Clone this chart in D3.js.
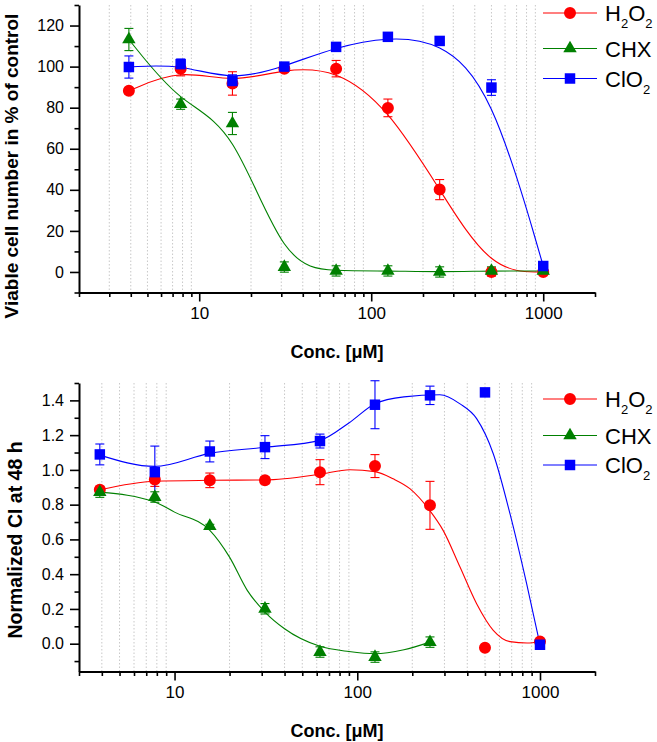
<!DOCTYPE html>
<html><head><meta charset="utf-8">
<script src="https://cdn.jsdelivr.net/npm/d3@7"></script>
<style>
html,body{margin:0;padding:0;background:#fff;}
svg{display:block;font-family:"Liberation Sans",Arial,sans-serif;}
</style></head>
<body>
<svg id="chart" width="657" height="742"></svg>
<script>
// ---------- data ----------
const concs = [3.9, 7.8, 15.6, 31.25, 62.5, 125, 250, 500, 1000];
const seriesNames = ["H2O2", "CHX", "ClO2"];
const seriesColors = ["#ff0000", "#008000", "#0000ff"];

// top panel: viable cell number (% of control)
const topH2O2 = [88.2, 99, 91.8, 99, 99, 79.9, 40.1, 0, 0];
const topH2O2Err = [1.5, 3.5, 5.7, 1.5, 4, 4.3, 4.9, 2, 0.5];
const topCHX = [113.2, 81.7, 72.3, 2.4, 0.5, 0.5, 0, 0.5, 0.5];
const topCHXErr = [5.4, 2.5, 5.4, 2.5, 2.5, 2.5, 2.5, 2, 1];
const topClO2 = [99.8, 101.2, 93, 100, 109.6, 114.5, 112.5, 89.8, 2.9];
const topClO2Err = [5.4, 2.5, 3, 1.5, 1, 1, 1.5, 3.8, 1];

// bottom panel: normalized CI at 48 h
const botCHXConcs = [3.9, 7.8, 15.6, 31.25, 62.5, 125, 250];
const botH2O2 = [0.886, 0.945, 0.94, 0.94, 0.987, 1.022, 0.796, -0.023, 0.013];
const botH2O2Err = [0.02, 0.04, 0.042, 0.02, 0.072, 0.066, 0.138, 0, 0];
const botCHX = [0.872, 0.844, 0.677, 0.201, -0.048, -0.077, 0.009];
const botCHXErr = [0.03, 0.03, 0.01, 0.03, 0.03, 0.03, 0.03];
const botClO2 = [1.089, 0.987, 1.106, 1.131, 1.166, 1.375, 1.429, 1.446, -0.006];
const botClO2Err = [0.06, 0.15, 0.06, 0.066, 0.04, 0.138, 0.053, 0, 0];

// bottom panel fitted curves
const fitBotH2O2 = [[3.9,0.886],[7.8,0.935],[15.6,0.94],[31.25,0.942],[62.5,0.975],[91,1.001],[125,0.99],[157,0.949],[194,0.892],[249,0.767],[295,0.652],[365,0.441],[450,0.23],[555,0.077],[685,0.012],[850,0.004],[1000,0.013]];
const fitBotCHX = [[3.9,0.872],[7.8,0.815],[10,0.757],[15.6,0.652],[20,0.498],[25,0.307],[31.25,0.182],[40,0.086],[62.5,-0.015],[90,-0.045],[125,-0.058],[180,-0.035],[250,0.009]];
const fitBotClO2 = [[3.9,1.085],[7.8,1.02],[15.6,1.095],[31.25,1.13],[62.5,1.17],[90,1.27],[125,1.38],[180,1.42],[283,1.432],[365,1.38],[450,1.295],[555,1.093],[685,0.748],[845,0.345],[1000,-0.006]];

// legend label parts (main text / subscript)
const legendParts = [
  [["H", false], ["2", true], ["O", false], ["2", true]],
  [["CHX", false]],
  [["ClO", false], ["2", true]]
];

// axis ticks
const topXMajor = [10, 100, 1000];
const topXMinor = [2,3,4,5,6,7,8,9,20,30,40,50,60,70,80,90,200,300,400,500,600,700,800,900,2000];
const botXMinor = [3,4,5,6,7,8,9,20,30,40,50,60,70,80,90,200,300,400,500,600,700,800,900,2000];
const topYMajor = [0, 20, 40, 60, 80, 100, 120];
const topYMinor = [-10, 10, 30, 50, 70, 90, 110, 130];
const botYMajor = [0, 0.2, 0.4, 0.6, 0.8, 1.0, 1.2, 1.4];
const botYMinor = [-0.1, 0.1, 0.3, 0.5, 0.7, 0.9, 1.1, 1.3, 1.5];

// ---------- drawing ----------
const svg = d3.select("#chart");

function drawPanel(cfg) {
  const g = svg.append("g");
  const x = d3.scaleLog().domain(cfg.xDomain).range([79, 595]);
  const y = d3.scaleLinear().domain(cfg.yDomain).range(cfg.yRange);
  const yTop = cfg.yRange[1], yBot = cfg.yRange[0];

  // grid
  g.append("g").selectAll("line")
    .data(cfg.xMinor.filter(v => v > cfg.xDomain[0] && v < cfg.xDomain[1]))
    .join("line")
    .attr("x1", d => x(d)).attr("x2", d => x(d))
    .attr("y1", yTop).attr("y2", yBot)
    .attr("stroke", "#c8c8c8").attr("stroke-width", 1)
    .attr("stroke-dasharray", "1.5,2");

  // fit lines
  cfg.series.forEach((s, i) => {
    const line = d3.line().x(d => x(d[0])).y(d => y(d[1])).curve(s.curve);
    g.append("path").datum(s.fit)
      .attr("d", line).attr("fill", "none")
      .attr("stroke", seriesColors[i]).attr("stroke-width", 1.1);
  });

  // error bars
  cfg.series.forEach((s, i) => {
    const pts = s.x.map((c, k) => ({c, v: s.v[k], e: s.e[k]})).filter(p => p.e > 0);
    const eg = g.append("g").attr("stroke", seriesColors[i]).attr("stroke-width", 1.1);
    pts.forEach(p => {
      const cx = x(p.c);
      eg.append("line").attr("x1", cx).attr("x2", cx).attr("y1", y(p.v - p.e)).attr("y2", y(p.v + p.e));
      eg.append("line").attr("x1", cx - 4.5).attr("x2", cx + 4.5).attr("y1", y(p.v - p.e)).attr("y2", y(p.v - p.e));
      eg.append("line").attr("x1", cx - 4.5).attr("x2", cx + 4.5).attr("y1", y(p.v + p.e)).attr("y2", y(p.v + p.e));
    });
  });

  // markers
  cfg.series.forEach((s, i) => {
    const pts = s.x.map((c, k) => ({c, v: s.v[k]}));
    g.append("g").selectAll("path").data(pts).join("path")
      .attr("transform", d => `translate(${x(d.c)},${y(d.v)})`)
      .attr("d", markerPath(i))
      .attr("fill", seriesColors[i]);
  });

  // axes
  const xMajorAxis = d3.axisBottom(x).tickValues(topXMajor).tickFormat(d3.format("d")).tickSize(9).tickSizeOuter(0).tickPadding(5);
  const xMinorAxis = d3.axisBottom(x).tickValues(cfg.xMinor).tickFormat("").tickSize(4.5).tickSizeOuter(0);
  const yMajorAxis = d3.axisLeft(y).tickValues(cfg.yMajor).tickFormat(cfg.yFormat).tickSize(9).tickSizeOuter(0).tickPadding(6);
  const yMinorAxis = d3.axisLeft(y).tickValues(cfg.yMinor).tickFormat("").tickSize(4.5).tickSizeOuter(0);

  [xMinorAxis, xMajorAxis].forEach((ax, k) => {
    const a = g.append("g").attr("transform", `translate(0,${yBot})`).call(ax);
    a.selectAll(".tick line").attr("stroke", "#000").attr("stroke-width", 1.6);
    a.select(".domain").attr("stroke", "#000").attr("stroke-width", k ? 2 : 0);
    a.selectAll("text").attr("font-size", 17).attr("fill", "#000")
      .attr("font-family", "Liberation Sans, Arial, sans-serif");
  });
  [yMinorAxis, yMajorAxis].forEach((ax, k) => {
    const a = g.append("g").attr("transform", `translate(79,0)`).call(ax);
    a.selectAll(".tick line").attr("stroke", "#000").attr("stroke-width", 1.6);
    a.select(".domain").attr("stroke", "#000").attr("stroke-width", k ? 2 : 0);
    a.selectAll("text").attr("font-size", 16).attr("fill", "#000")
      .attr("font-family", "Liberation Sans, Arial, sans-serif");
  });

  // axis titles
  g.append("text").attr("x", 337).attr("y", yBot + 65.5)
    .attr("text-anchor", "middle").attr("font-size", 18).attr("font-weight", "bold")
    .text("Conc. [\u03BCM]");
  g.append("text")
    .attr("transform", `translate(${cfg.yTitleX},${cfg.yTitleY}) rotate(-90)`)
    .attr("text-anchor", "middle").attr("font-size", cfg.yTitleSize).attr("font-weight", "bold")
    .text(cfg.yTitle);

  // legend
  cfg.legendY.forEach((ly, i) => {
    const lg = g.append("g");
    lg.append("line").attr("x1", 543).attr("x2", 597).attr("y1", ly).attr("y2", ly)
      .attr("stroke", seriesColors[i]).attr("stroke-width", 1.1);
    lg.append("path").attr("transform", `translate(570,${ly})`).attr("d", markerPath(i)).attr("fill", seriesColors[i]);
    let cx = 605;
    legendParts[i].forEach(([txt, sub]) => {
      const t = lg.append("text").attr("x", cx).attr("y", ly + 8 + (sub ? 7 : 0))
        .attr("font-size", sub ? 13 : 22).attr("fill", "#000").text(txt);
      cx += t.node().getComputedTextLength();
    });
  });
}

function markerPath(i) {
  if (i === 0) return d3.symbol(d3.symbolCircle, 113)();
  if (i === 1) return d3.symbol(d3.symbolTriangle, 78)();
  return d3.symbol(d3.symbolSquare, 110)();
}

drawPanel({
  xDomain: [2, 2000], yDomain: [-10, 130], yRange: [292.5, 5],
  xMinor: topXMinor, yMajor: topYMajor, yMinor: topYMinor, yFormat: d3.format("d"),
  yTitle: "Viable cell number in % of control", yTitleX: 18, yTitleY: 166, yTitleSize: 19,
  legendY: [13, 48.5, 78.5],
  series: [
    {x: concs, v: topH2O2, e: topH2O2Err, fit: concs.map((c, k) => [c, topH2O2[k]]), curve: d3.curveBasis},
    {x: concs, v: topCHX, e: topCHXErr, fit: concs.map((c, k) => [c, topCHX[k]]), curve: d3.curveBasis},
    {x: concs, v: topClO2, e: topClO2Err, fit: concs.map((c, k) => [c, topClO2[k]]), curve: d3.curveBasis}
  ]
});

drawPanel({
  xDomain: [3, 2000], yDomain: [-0.16, 1.5], yRange: [671.5, 383],
  xMinor: botXMinor, yMajor: botYMajor, yMinor: botYMinor, yFormat: d3.format(".1f"),
  yTitle: "Normalized CI at 48 h", yTitleX: 22, yTitleY: 540, yTitleSize: 19.5,
  legendY: [399, 435.5, 465],
  series: [
    {x: concs, v: botH2O2, e: botH2O2Err, fit: fitBotH2O2, curve: d3.curveMonotoneX},
    {x: botCHXConcs, v: botCHX, e: botCHXErr, fit: fitBotCHX, curve: d3.curveMonotoneX},
    {x: concs, v: botClO2, e: botClO2Err, fit: fitBotClO2, curve: d3.curveMonotoneX}
  ]
});
</script>
</body></html>
